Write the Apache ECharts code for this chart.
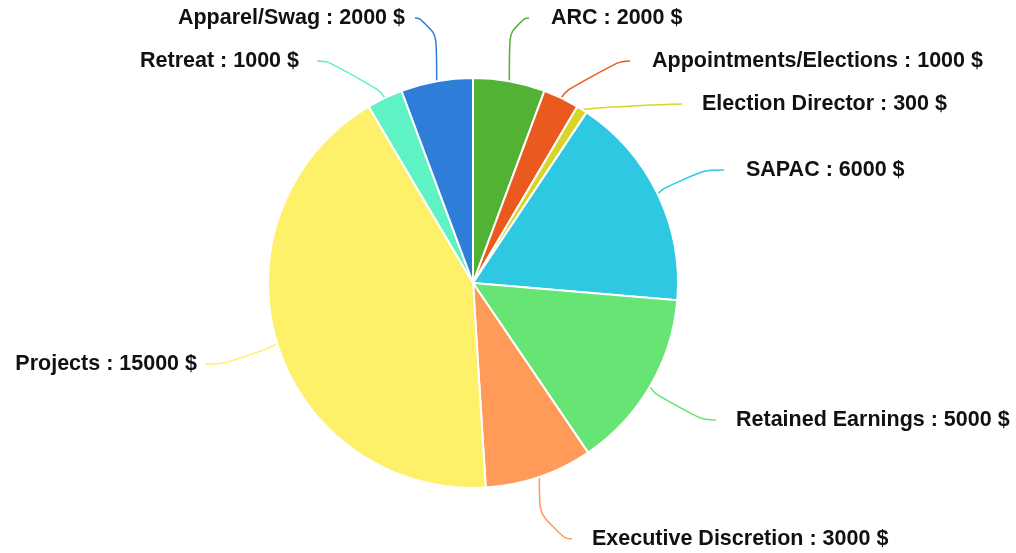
<!DOCTYPE html>
<html><head><meta charset="utf-8">
<script src="https://cdn.jsdelivr.net/npm/echarts@6/dist/echarts.min.js"></script>
<style>html,body{margin:0;padding:0;background:#fff}#c{width:1016px;height:553px}</style>
</head><body><div id="c"></div>
<script>
const categories = ['ARC','Appointments/Elections','Election Director','SAPAC','Retained Earnings','Executive Discretion','Projects','Retreat','Apparel/Swag'];
const values = [2000,1000,300,6000,5000,3000,15000,1000,2000];
const colors = ['#52b234','#ea5a1e','#d6d62a','#2ec8e2','#66e474','#ff9a58','#fff06a','#5ef2c4','#2e7dd8'];
// label layout: [align, text edge x, centre y, gap between line end and text]
const labelPos = [['left',551,18,22],['left',652,61,22],['left',702,104,20],['left',746,170,22],['left',736,420,20],['left',592,539,20],['right',197,364,8],['right',299,61,18],['right',405,18,10]];

const rich = {};
labelPos.forEach(l=>{ rich['g'+l[3]] = {width:l[3], height:1}; });

const chart = echarts.init(document.getElementById('c'), null, {renderer:'canvas'});
chart.setOption({
  animation:false,
  series:[{
    type:'pie',
    center:[473,283],
    radius:205,
    startAngle:90,
    clockwise:true,
    data: categories.map((n,i)=>{
      const l = labelPos[i];
      const sp = '{g'+l[3]+'|}';
      return {name:n,value:values[i],itemStyle:{color:colors[i]},
        label:{formatter: l[0]==='left' ? sp+'{b} : {c} $' : '{b} : {c} $'+sp},
        labelLine:{lineStyle:{color:colors[i]}}};
    }),
    itemStyle:{borderColor:'#fff',borderWidth:2},
    label:{fontFamily:'Liberation Sans, Arial, sans-serif',fontWeight:'bold',fontSize:21.5,color:'#111',overflow:'none',rich:rich},
    labelLine:{length:20,length2:45,smooth:0.8,lineStyle:{width:1.5}},
    labelLayout:function(p){
      const l = labelPos[p.dataIndex];
      return {x: l[0]==='left' ? l[1]-l[3] : l[1]+l[3], y:l[2], align:l[0], verticalAlign:'middle'};
    }
  }]
});
</script></body></html>
